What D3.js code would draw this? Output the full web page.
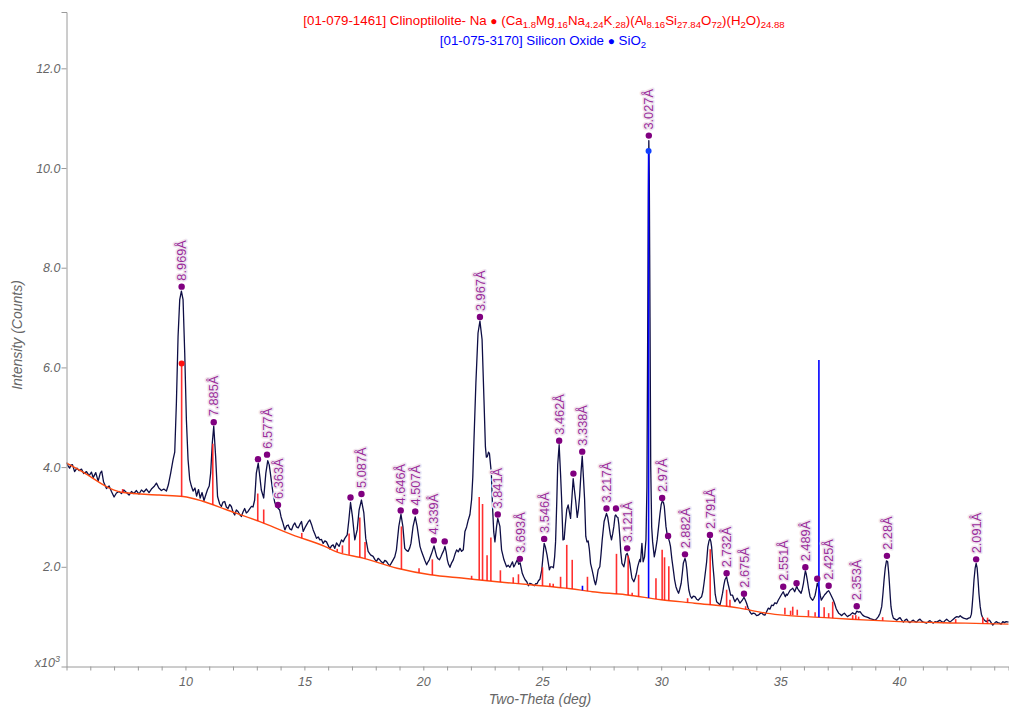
<!DOCTYPE html>
<html><head><meta charset="utf-8">
<script src="https://cdn.jsdelivr.net/npm/d3@7"></script>
<style>
body{margin:0;background:#fff;}
svg{display:block;font-family:"Liberation Sans",Arial,sans-serif;}
</style>
</head><body>
<svg id="c" width="1009" height="709"></svg>
<script>
// ---------- DATA ----------
// observed pattern: [two-theta (deg), intensity (x10^3 counts)]
const observed = [
[5.00,4.09],[5.07,4.02],[5.13,3.98],[5.19,4.04],[5.25,4.05],[5.34,3.91],[5.44,3.98],[5.53,3.93],[5.63,3.96],[5.72,3.87],[5.84,3.91],[5.95,3.83],[6.05,3.90],[6.12,3.79],[6.23,3.89],[6.33,3.72],[6.42,3.88],[6.48,3.92],[6.51,3.84],[6.56,3.70],[6.68,3.57],[6.79,3.62],[6.89,3.51],[7.00,3.40],[7.10,3.48],[7.21,3.51],[7.31,3.47],[7.41,3.54],[7.52,3.49],[7.63,3.44],[7.73,3.51],[7.83,3.47],[7.94,3.53],[8.05,3.46],[8.15,3.54],[8.25,3.50],[8.36,3.56],[8.47,3.49],[8.57,3.56],[8.68,3.61],[8.78,3.68],[8.88,3.58],[8.99,3.53],[9.09,3.56],[9.20,3.52],[9.28,3.64],[9.38,3.88],[9.48,4.15],[9.55,4.30],[9.62,5.29],[9.69,6.62],[9.76,7.36],[9.83,7.53],[9.90,7.36],[9.97,6.29],[10.04,4.95],[10.11,4.15],[10.18,3.75],[10.25,3.62],[10.32,3.52],
[10.40,3.58],[10.47,3.42],[10.55,3.55],[10.62,3.38],[10.70,3.49],[10.78,3.33],[10.86,3.45],[10.93,3.55],[11.00,3.62],[11.06,3.88],[11.13,4.49],[11.19,4.82],[11.27,4.21],[11.35,3.41],[11.44,3.26],[11.51,3.21],[11.58,3.30],[11.65,3.31],[11.72,3.20],[11.79,3.17],[11.86,3.25],[11.93,3.21],[12.00,3.10],[12.07,3.04],[12.14,3.14],[12.21,3.11],[12.28,3.05],[12.35,3.01],[12.42,3.10],[12.49,3.17],[12.56,3.08],[12.63,3.11],[12.70,3.16],[12.77,3.21],[12.84,3.20],[12.91,3.34],[12.98,3.88],[13.06,4.08],[13.13,3.80],[13.19,3.54],[13.29,3.38],[13.38,3.88],[13.46,4.13],[13.52,4.05],[13.57,3.88],[13.68,3.48],[13.75,3.30],[13.82,3.21],[13.89,3.18],[13.96,3.14],[14.02,3.00],[14.08,2.91],[14.18,2.74],[14.25,2.82],[14.32,2.84],[14.39,2.76],[14.46,2.74],[14.53,2.83],[14.60,2.88],[14.67,2.80],[14.74,2.78],[14.81,2.85],[14.88,2.91],[14.95,2.71],[15.02,2.78],[15.09,2.84],[15.16,2.90],[15.23,2.94],[15.30,2.85],[15.37,2.74],[15.44,2.66],[15.51,2.57],[15.58,2.60],[15.65,2.54],[15.72,2.55],[15.79,2.47],[15.86,2.52],[15.93,2.50],[16.00,2.43],[16.07,2.36],[16.14,2.42],[16.21,2.44],[16.28,2.37],
[16.35,2.48],[16.46,2.41],[16.56,2.54],[16.63,2.50],[16.70,2.57],[16.80,2.64],[16.87,2.94],[16.94,3.29],[17.02,3.01],[17.12,2.54],[17.22,2.74],[17.30,3.14],[17.40,3.34],[17.50,3.08],[17.58,2.57],[17.68,2.31],[17.78,2.24],[17.89,2.21],[17.96,2.15],[18.03,2.11],[18.10,2.17],[18.17,2.14],[18.24,2.10],[18.31,2.07],[18.38,2.13],[18.45,2.11],[18.52,2.06],[18.59,2.02],[18.66,2.08],[18.73,2.14],[18.80,2.20],[18.87,2.34],[18.97,2.81],[19.06,3.05],[19.14,2.81],[19.22,2.37],[19.29,2.33],[19.36,2.31],[19.43,2.38],[19.48,2.47],[19.57,2.81],[19.66,3.00],[19.74,2.81],[19.86,2.41],[19.93,2.30],[20.00,2.21],[20.07,2.12],[20.14,2.04],[20.20,2.10],[20.25,2.14],[20.35,2.27],[20.45,2.42],[20.50,2.32],[20.56,2.21],[20.62,2.16],[20.68,2.14],[20.74,2.20],[20.80,2.27],[20.86,2.33],[20.91,2.41],[20.96,2.30],[21.01,2.14],[21.06,2.05],[21.12,1.99],[21.19,2.08],[21.26,2.14],[21.33,2.25],[21.40,2.34],[21.47,2.30],[21.54,2.37],[21.61,2.31],[21.68,2.34],[21.75,2.71],[21.82,2.80],[21.89,2.94],[21.96,3.05],[22.03,3.35],[22.08,3.80],[22.13,4.55],[22.21,5.69],[22.30,6.69],[22.38,6.93],[22.47,6.56],[22.55,5.35],[22.61,4.41],[22.65,4.20],[22.69,4.21],[22.74,4.30],[22.78,4.27],[22.86,3.88],[22.91,3.20],[22.96,2.70],[23.01,2.50],[23.08,2.81],[23.13,2.97],[23.22,2.81],[23.29,2.34],[23.39,2.14],[23.50,2.00],[23.57,2.03],[23.64,1.99],[23.75,2.10],[23.80,2.00],[23.85,2.04],[23.95,2.14],[24.01,2.05],[24.07,2.08],[24.16,1.87],[24.22,1.80],[24.28,1.74],[24.35,1.70],[24.42,1.62],[24.48,1.67],[24.54,1.66],[24.60,1.64],[24.67,1.62],[24.72,1.66],[24.78,1.66],[24.84,1.72],[24.90,1.75],[24.98,1.94],[25.03,2.20],[25.08,2.47],[25.13,2.40],[25.20,2.24],[25.30,1.94],[25.35,2.00],[25.41,2.00],[25.47,1.98],[25.52,2.20],
[25.56,2.50],[25.61,3.30],[25.65,4.05],[25.71,4.45],[25.77,3.85],[25.81,3.40],[25.87,2.54],[25.92,2.55],[25.97,2.85],[26.03,3.15],[26.09,3.24],[26.14,3.10],[26.19,2.97],[26.25,3.40],[26.30,3.77],[26.35,3.55],[26.41,3.30],[26.47,2.99],[26.52,3.15],[26.57,3.41],[26.63,3.90],[26.68,4.22],[26.73,3.80],[26.78,3.35],[26.83,2.61],[26.88,2.50],[26.93,2.52],[26.98,2.35],[27.03,2.07],[27.09,1.95],[27.14,1.84],[27.19,1.72],[27.24,1.64],[27.29,1.75],[27.35,1.94],[27.42,2.00],[27.47,2.25],[27.52,2.54],[27.60,2.91],[27.70,3.07],[27.75,3.00],[27.80,2.84],[27.86,2.65],[27.91,2.54],[27.96,2.66],[28.01,2.81],[28.06,3.02],[28.09,3.04],[28.14,3.00],[28.18,2.99],[28.22,2.85],[28.26,2.61],[28.30,2.30],[28.35,2.07],[28.43,2.00],[28.48,2.12],[28.52,2.24],[28.57,2.27],[28.62,2.20],[28.68,2.07],[28.73,1.90],[28.77,1.77],[28.85,1.70],[28.91,1.78],[28.96,1.87],[29.01,2.00],[29.05,2.07],[29.10,2.15],[29.13,2.10],[29.19,2.47],[29.24,2.10],[29.30,2.20],[29.36,2.54],[29.40,3.60],[29.43,6.50],[29.46,9.40],[29.48,10.55],[29.50,9.80],[29.53,7.00],[29.56,4.00],[29.60,2.80],[29.64,2.50],[29.71,2.20],[29.77,2.35],[29.83,2.54],[29.89,2.80],[29.95,3.07],[30.00,3.25],[30.04,3.31],[30.09,3.30],[30.13,3.21],[30.20,2.81],[30.25,2.65],[30.30,2.58],[30.35,2.50],[30.39,2.41],[30.45,2.15],[30.51,1.94],[30.56,1.75],[30.62,1.60],[30.68,1.52],[30.73,1.47],[30.78,1.55],[30.84,1.67],[30.89,1.88],[30.93,2.07],[31.00,2.17],[31.04,2.10],[31.08,1.94],[31.12,1.72],[31.16,1.54],[31.22,1.42],[31.28,1.37],[31.35,1.41],[31.42,1.40],[31.49,1.35],[31.56,1.33],[31.63,1.37],[31.70,1.40],[31.75,1.50],[31.80,1.67],[31.86,1.90],[31.91,2.10],[31.96,2.40],[32.01,2.52],[32.05,2.57],[32.09,2.50],[32.12,2.40],[32.17,2.05],[32.22,1.78],[32.27,1.45],[32.33,1.30],[32.40,1.27],[32.47,1.23],[32.53,1.35],[32.58,1.47],[32.63,1.62],[32.68,1.74],[32.75,1.80],[32.80,1.68],[32.84,1.60],[32.92,1.43],[33.00,1.43],[33.05,1.36],[33.10,1.30],[33.15,1.34],[33.20,1.37],[33.26,1.32],[33.31,1.27],[33.36,1.30],[33.41,1.33],[33.48,1.39],[33.54,1.33],[33.59,1.27],[33.65,1.18],[33.70,1.13],[33.75,1.08],[33.80,1.05],[33.87,1.07],[33.94,1.06],[34.01,1.02],[34.08,1.03],[34.15,1.06],[34.22,1.08],[34.29,1.04],[34.36,1.03],[34.43,1.10],[34.50,1.17],[34.57,1.15],[34.64,1.23],[34.71,1.22],[34.78,1.28],[34.85,1.26],[34.92,1.33],[34.98,1.38],[35.04,1.43],[35.09,1.47],[35.13,1.50],[35.18,1.44],[35.22,1.40],[35.26,1.45],[35.30,1.43],[35.36,1.48],[35.42,1.53],[35.48,1.55],[35.53,1.57],[35.57,1.54],[35.61,1.50],[35.66,1.56],[35.70,1.61],[35.74,1.56],[35.78,1.53],[35.83,1.50],[35.88,1.47],[35.93,1.55],[35.98,1.67],[36.02,1.80],[36.06,1.92],[36.10,1.85],[36.14,1.74],[36.20,1.55],[36.26,1.40],[36.31,1.36],[36.37,1.33],[36.42,1.37],[36.47,1.43],[36.52,1.55],[36.56,1.67],[36.60,1.62],[36.65,1.53],[36.69,1.42],[36.73,1.33],[36.78,1.37],[36.82,1.40],[36.87,1.44],[36.93,1.47],[36.98,1.50],[37.04,1.52],[37.09,1.48],[37.14,1.43],[37.19,1.38],[37.24,1.33],[37.30,1.25],[37.35,1.17],[37.40,1.12],[37.46,1.07],[37.52,1.05],[37.59,1.02],[37.64,1.05],[37.70,1.07],[37.77,1.03],[37.83,1.00],[37.88,1.02],[37.94,1.03],[38.00,1.06],[38.05,1.08],[38.10,1.06],[38.16,1.05],[38.22,1.11],[38.30,1.09],[38.36,1.10],[38.42,1.06],[38.47,1.03],[38.53,1.01],[38.58,1.00],[38.65,0.99],[38.71,0.98],[38.78,0.96],[38.85,0.95],[38.92,0.94],[38.99,0.93],[39.06,0.96],[39.13,1.00],[39.20,1.07],[39.27,1.20],[39.32,1.45],[39.37,1.74],[39.42,1.98],[39.47,2.12],[39.52,2.10],[39.56,1.90],[39.59,1.70],[39.63,1.40],[39.66,1.20],[39.71,1.05],[39.76,0.97],[39.83,0.95],[39.90,0.93],[39.97,0.96],[40.04,0.98],[40.11,0.93],[40.18,0.89],[40.25,0.93],[40.32,0.95],[40.39,0.90],[40.46,0.88],[40.53,0.91],[40.60,0.93],[40.67,0.90],[40.74,0.89],[40.81,0.93],[40.88,0.95],[40.95,0.91],[41.02,0.89],[41.09,0.88],[41.16,0.87],[41.23,0.90],[41.30,0.92],[41.37,0.89],[41.44,0.87],[41.51,0.90],[41.58,0.89],[41.65,0.91],[41.72,0.93],[41.79,0.90],[41.86,0.88],[41.93,0.92],[42.00,0.95],[42.07,0.92],[42.14,0.89],[42.21,0.92],[42.28,0.95],[42.35,0.98],[42.43,1.00],[42.50,0.99],[42.57,1.02],[42.64,0.99],[42.71,0.97],[42.78,0.96],[42.85,0.95],[42.92,0.97],[42.99,0.98],[43.04,1.05],[43.07,1.20],[43.11,1.45],[43.15,1.74],[43.20,1.98],[43.24,2.07],[43.28,1.98],[43.32,1.74],[43.36,1.45],[43.41,1.20],[43.46,1.05],[43.52,0.97],[43.59,0.93],[43.66,0.90],[43.73,0.92],[43.80,0.93],[43.87,0.88],[43.94,0.83],[44.01,0.87],[44.08,0.90],[44.15,0.88],[44.22,0.87],[44.29,0.85],[44.36,0.90],[44.43,0.88],[44.50,0.90],[44.60,0.89]
];

// fitted background
const bgTheta  = [5.0,5.8,6.8,7.4,8.9,9.9,10.7,11.7,13.1,14.5,15.9,16.3,17.5,18.9,20.3,21.7,23.1,24.5,26.2,27.1,28.5,30.0,31.4,33.3,34.4,37.2,40.0,42.8,44.6];
const bgCounts = [4.08,3.87,3.58,3.49,3.44,3.41,3.32,3.15,2.91,2.64,2.40,2.31,2.17,1.97,1.84,1.77,1.70,1.64,1.56,1.50,1.44,1.34,1.27,1.17,1.07,0.97,0.90,0.87,0.85];

// reference sticks: 01-079-1461 Clinoptilolite-Na (red)
const cliTheta = [7.36,9.84,11.15,13.04,13.29,14.89,16.38,16.60,16.88,17.33,17.55,19.08,19.82,20.38,22.03,22.35,22.49,22.68,22.84,23.24,23.78,24.00,25.01,25.32,25.46,25.77,26.03,26.26,26.90,28.12,28.61,28.78,29.05,29.78,30.04,30.14,30.32,31.11,32.06,32.75,32.89,33.55,35.20,35.44,35.53,35.72,36.19,36.47,36.85,37.04,37.21,38.05,38.18,38.30,39.31,42.38,43.52,43.72];
const cliTop   = [3.56,6.08,4.47,3.47,3.15,2.68,2.36,2.43,2.67,2.99,2.50,2.81,1.97,2.15,1.82,3.40,3.26,2.23,2.59,1.93,1.79,1.85,1.99,1.67,1.66,1.80,2.44,2.14,1.80,2.26,2.22,1.48,1.84,1.77,2.34,2.19,2.01,1.37,2.35,1.54,1.34,1.21,1.18,1.12,1.20,1.14,1.13,1.09,1.19,1.07,1.30,1.03,1.03,1.00,0.99,0.95,0.99,0.98];
// reference sticks: 01-075-3170 Silicon Oxide (blue)
const siTheta = [26.69,29.47,36.63];
const siTop   = [1.62,10.34,6.15];

// identified peaks (marker height, d-spacing label; "" = unlabeled)
const peakTheta = [9.84,11.19,13.05,13.43,13.89,16.94,17.40,19.05,19.66,20.44,20.90,22.38,23.13,24.06,25.08,25.71,26.31,26.68,27.70,28.10,28.57,29.48,30.04,30.29,31.00,32.05,32.75,33.48,35.13,35.69,36.06,36.56,37.04,38.22,39.49,43.24];
const peakDot   = [7.62,4.90,4.16,4.25,3.24,3.39,3.46,3.13,3.11,2.53,2.51,7.01,3.05,2.16,2.56,4.53,3.87,4.31,3.17,3.17,2.37,10.65,3.38,2.62,2.25,2.64,1.87,1.46,1.60,1.67,1.99,1.76,1.62,1.21,2.22,2.15];
const peakLabel = ["8.969Å","7.885Å","","6.577Å","6.363Å","","5.087Å","4.646Å","4.507Å","4.339Å","","3.967Å","3.841Å","3.693Å","3.546Å","3.462Å","","3.338Å","3.217Å","","3.121Å","3.027Å","2.97Å","","2.882Å","2.791Å","2.732Å","2.675Å","2.551Å","","2.489Å","","2.425Å","2.353Å","2.28Å","2.091Å"];

const xMajor = [10,15,20,25,30,35,40];
const yTicks = [2,4,6,8,10,12];

// ---------- CHART ----------
const svg = d3.select("#c");
const x = d3.scaleLinear().domain([5,44.6]).range([66.5,1008.5]);
const y = d3.scaleLinear().domain([0,13.13]).range([666.5,12]);
const bgAt = d3.scaleLinear().domain(bgTheta).range(bgCounts);

svg.append("defs").append("clipPath").attr("id","clip")
  .append("rect").attr("x",66.5).attr("y",0).attr("width",943).attr("height",667);

const plot = svg.append("g").attr("clip-path","url(#clip)");

// observed
plot.append("path").datum(observed)
  .attr("fill","none").attr("stroke","#0e0e45").attr("stroke-width",1.3).attr("stroke-linejoin","round")
  .attr("d", d3.line().x(d=>x(d[0])).y(d=>y(d[1])));

// background
plot.append("path").datum(d3.zip(bgTheta,bgCounts))
  .attr("fill","none").attr("stroke","#ff4a10").attr("stroke-width",1.4)
  .attr("d", d3.line().curve(d3.curveMonotoneX).x(d=>x(d[0])).y(d=>y(d[1])));

// red sticks
plot.selectAll("line.cli").data(d3.zip(cliTheta,cliTop)).join("line")
  .attr("class","cli")
  .attr("x1",d=>x(d[0])).attr("x2",d=>x(d[0]))
  .attr("y1",d=>y(bgAt(d[0]))).attr("y2",d=>y(d[1]))
  .attr("stroke","#ff1a1a").attr("stroke-width",1.6).attr("stroke-opacity",0.9);

// blue sticks
plot.selectAll("line.si").data(d3.zip(siTheta,siTop)).join("line")
  .attr("class","si")
  .attr("x1",d=>x(d[0])).attr("x2",d=>x(d[0]))
  .attr("y1",d=>y(bgAt(d[0]))).attr("y2",d=>y(d[1]))
  .attr("stroke","#0000ff").attr("stroke-width",1.6);

// phase reference markers (strongest line)
plot.append("circle").attr("cx",x(cliTheta[1])).attr("cy",y(cliTop[1])).attr("r",3).attr("fill","#ff1010");
plot.append("circle").attr("cx",x(siTheta[1])).attr("cy",y(siTop[1])).attr("r",3).attr("fill","#1040ff");

// peak markers
const peaks = peakTheta.map((t,i)=>({t, v:peakDot[i], l:peakLabel[i]}));
const pg = svg.append("g");
pg.selectAll("circle").data(peaks).join("circle")
  .attr("cx",d=>x(d.t)).attr("cy",d=>y(d.v)).attr("r",3.2).attr("fill","#800080");
pg.selectAll("text").data(peaks.filter(d=>d.l)).join("text")
  .attr("transform",d=>`translate(${x(d.t)},${y(d.v)-6}) rotate(-90)`)
  .attr("dy","0.36em")
  .attr("font-size",12.8).attr("fill","#9a2a9a")
  .attr("stroke","#efe6ef").attr("stroke-width",3).attr("paint-order","stroke").attr("stroke-linejoin","round")
  .text(d=>d.l);

// axes
const axisCol = "#9a9a9a", txtCol = "#666";
const xAxis = svg.append("g").attr("transform","translate(0,666.5)")
  .call(d3.axisBottom(x).tickValues(d3.range(6,45,1)).tickSize(4).tickFormat(d=> xMajor.includes(d)? d : ""));
const yAxis = svg.append("g").attr("transform","translate(66.5,0)")
  .call(d3.axisLeft(y).tickValues(yTicks).tickSize(5).tickFormat(d3.format(".1f")));
[xAxis,yAxis].forEach(a=>{
  a.select(".domain").attr("stroke",axisCol);
  a.selectAll(".tick line").attr("stroke",axisCol);
  a.selectAll(".tick text").attr("fill",txtCol).attr("font-size",12.5).attr("font-style","italic")
   .attr("font-family","'Liberation Sans',Arial,sans-serif");
});
xAxis.selectAll(".tick text").attr("y",11);
yAxis.selectAll(".tick text").attr("x",-6);

// x10^3 multiplier
const mult = svg.append("text").attr("x",60).attr("y",667).attr("text-anchor","end")
  .attr("fill",txtCol).attr("font-size",12.5).attr("font-style","italic");
mult.append("tspan").text("x10");
mult.append("tspan").attr("dy",-5).attr("font-size",9).text("3");

// axis titles
svg.append("text").attr("x",540).attr("y",704).attr("text-anchor","middle")
  .attr("fill",txtCol).attr("font-size",14).attr("font-style","italic").text("Two-Theta (deg)");
svg.append("text").attr("transform","translate(22,335) rotate(-90)").attr("text-anchor","middle")
  .attr("fill",txtCol).attr("font-size",14).attr("font-style","italic").text("Intensity (Counts)");

// legend / phase titles with subscripts
function richText(xc, yb, color, parts){
  const t = svg.append("text").attr("x",xc).attr("y",yb).attr("text-anchor","middle")
    .attr("fill",color).attr("font-size",13.3);
  let shifted = false;
  parts.forEach(p=>{
    const s = t.append("tspan").text(p[0]);
    if(p[1]==="sub"){ s.attr("font-size",9.6).attr("dy", shifted?0:3); shifted=true; }
    else if(p[1]==="dot"){ s.attr("font-size",12).attr("dy", shifted?-3:0); shifted=false; }
    else { if(shifted){ s.attr("dy",-3); shifted=false; } }
  });
}
richText(544,25,"#ff0000",[["[01-079-1461] Clinoptilolite- Na "],["●","dot"],[" (Ca"],["1.8","sub"],["Mg"],[".16","sub"],["Na"],["4.24","sub"],["K"],[".28","sub"],[")(Al"],["8.16","sub"],["Si"],["27.84","sub"],["O"],["72","sub"],[")(H"],["2","sub"],["O)"],["24.88","sub"]]);
richText(543,45,"#0000ff",[["[01-075-3170] Silicon Oxide "],["●","dot"],[" SiO"],["2","sub"]]);
</script>
</body></html>
